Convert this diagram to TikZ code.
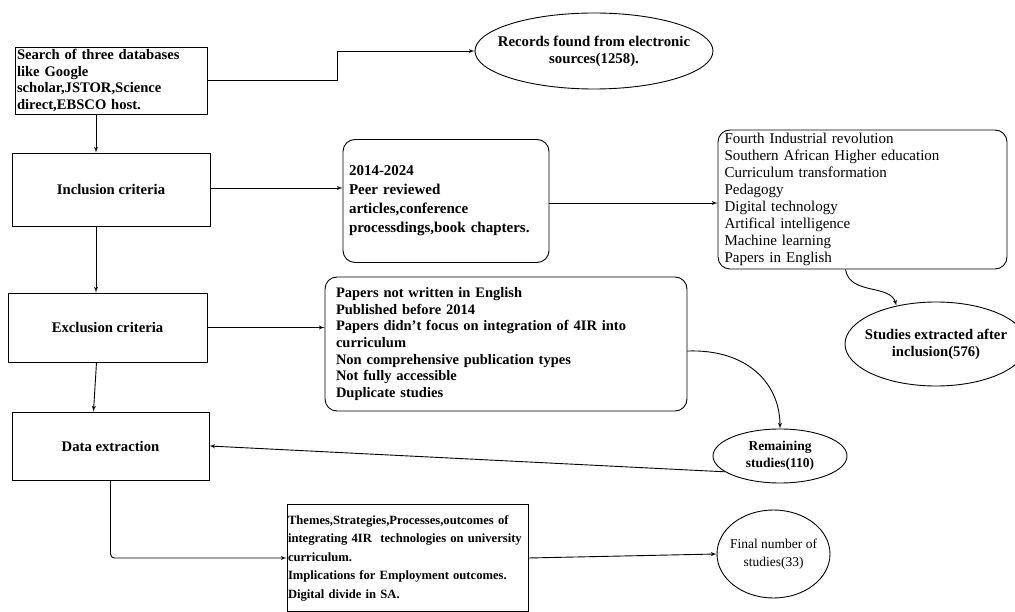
\documentclass[tikz,border=0pt]{standalone}
\usepackage{fontspec}
\setmainfont{Liberation Serif}
\usetikzlibrary{arrows}
\usetikzlibrary{calc}
\usetikzlibrary{shapes.geometric}
\hyphenpenalty=10000
\exhyphenpenalty=10000

\begin{document}
\begin{tikzpicture}[x=1pt,y=-1pt,every node/.style={font=\fontsize{14.7}{17}\selectfont\bfseries}]
        \tikzset{flow_box/.style = {draw,rectangle,line width=0.9pt,inner sep=2pt}}
        \tikzset{list_box/.style = {draw,rectangle,rounded corners=12pt,line width=0.9pt,align=left}}
        \tikzset{count_ell/.style = {draw,ellipse,line width=0.9pt,align=center,inner sep=0pt}}
        \tikzset{flow_edge/.style = {->,> = latex',color=black,line width=0.9pt}}

        \path[use as bounding box,fill=white] (0,0) rectangle (1015,612);

        % left column
        \node[flow_box,align=left,text width=188,minimum width=192,minimum height=67,font=\fontsize{14.6}{16.6}\selectfont\bfseries] (search) at (111,80.5) {Search of three databases\\like Google\\scholar,JSTOR,Science\\direct,EBSCO host.};
        \node[flow_box,minimum width=198,minimum height=73] (incl) at (111,189.5) {Inclusion criteria};
        \node[flow_box,minimum width=199,minimum height=69] (excl) at (107.5,327.5) {Exclusion criteria};
        \node[flow_box,minimum width=197,minimum height=68] (data) at (110.5,446) {Data extraction};

        % boxes and counts
        \node[count_ell,inner xsep=-12pt,minimum width=238,minimum height=76,font=\fontsize{14.8}{17}\selectfont\bfseries] (records) at (594,51) {Records found from electronic\\sources(1258).};
        \node[list_box,text width=194,minimum width=206,minimum height=123,font=\fontsize{15}{19}\selectfont\bfseries] (crit) at (446,201) {2014-2024\\Peer reviewed\\articles,conference\\processdings,book chapters.};
        \node[list_box,text width=276,minimum width=289,minimum height=139,font=\fontsize{15}{16.9}\selectfont] (topics) at (862.5,199.5) {Fourth Industrial revolution\\Southern African Higher education\\Curriculum transformation\\Pedagogy\\Digital technology\\Artifical intelligence\\Machine learning\\Papers in English};
        \node[count_ell,inner xsep=-7pt,minimum width=182,minimum height=84] (found) at (936,344) {Studies extracted after\\inclusion(576)};
        \node[list_box,text width=340,minimum width=362,minimum height=134,font=\fontsize{14.5}{16.6}\selectfont\bfseries] (reject) at (506,344) {Papers not written in English\\Published before 2014\\Papers didn't focus on integration of 4IR into\\curriculum\\Non comprehensive publication types\\Not fully accessible\\Duplicate studies};
        \node[count_ell,minimum width=134,minimum height=54,font=\fontsize{13.5}{17}\selectfont\bfseries] (remain) at (780,456) {Remaining\\studies(110)};
        \node[flow_box,align=left,text width=239,inner sep=1pt,minimum width=241,minimum height=107,font=\fontsize{12.6}{18.5}\selectfont\bfseries] (topicsout) at (407.5,558) {Themes,Strategies,Processes,outcomes of\\integrating 4IR~ technologies on university\\curriculum.\\Implications for Employment outcomes.\\Digital divide in SA.};
        \node[count_ell,inner xsep=-5pt,minimum width=113,minimum height=88,font=\fontsize{13.5}{18}\selectfont] (final) at (773.5,554) {Final number of\\studies(33)};

        % connectors
        \draw[flow_edge] (search.east) -- ++(130,0) |- (records.west);
        \draw[flow_edge] ([xshift=-15pt]search.south) -- ([xshift=-15pt]search.south |- incl.north);
        \draw[flow_edge] ([xshift=-15pt]incl.south) -- ([xshift=-15pt]incl.south |- excl.north);
        \draw[flow_edge] ([xshift=-11pt]excl.south) -- ([xshift=-14pt]excl.south |- data.north);
        \draw[flow_edge] ([yshift=1.5pt]incl.east) -- ([yshift=1.5pt]incl.east -| crit.west);
        \draw[flow_edge] ([yshift=-2pt]crit.east) -- ([yshift=-2pt]crit.east -| topics.west);
        \draw[flow_edge] (excl.east) -- (excl.east -| reject.west);
        \draw[flow_edge] ([xshift=-17pt]topics.south) .. controls ++(4,26) and ++(-6,-22) .. (found.136);
        \draw[flow_edge] ([yshift=-7pt]reject.east) .. controls ++(60,-2) and ++(0,-45) .. (remain.north);
        \draw[flow_edge] (remain.196) -- (data.east);
        \draw[flow_edge,rounded corners=4pt] (data.south) |- (topicsout.west);
        \draw[flow_edge] (topicsout.east) -- (final.west);
\end{tikzpicture}
\end{document}
